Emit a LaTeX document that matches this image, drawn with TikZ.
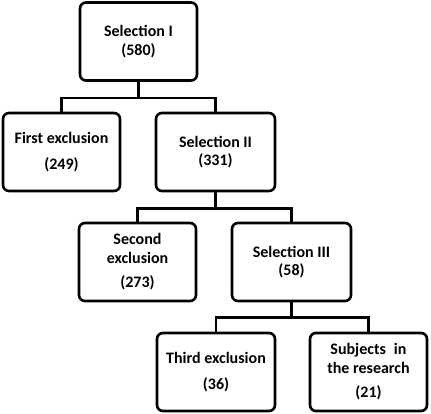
\documentclass[tikz,border=0pt]{standalone}
\usepackage{fontspec}
\setmainfont{Carlito}
\tikzset{
  stage/.style={draw, line width=2.6pt, rounded corners=6pt, align=center,
    minimum width=117pt, minimum height=78pt, inner sep=0pt,
    font=\bfseries\fontsize{16}{18.5}\selectfont},
  branch/.style={line width=2.6pt}
}
\begin{document}
\begin{tikzpicture}[x=1pt,y=1pt]
\useasboundingbox (0,0) rectangle (431,-413);
% first level
\node[stage] (selA) at (138.5,-41.5) {Selection I\\(580)};
\node[stage] (exclA) at (61.5,-152) {First exclusion\\[7pt](249)};
\node[stage, minimum width=119pt] (selB) at (215.5,-152) {Selection II\\(331)};
% second level
\node[stage] (exclB) at (137.5,-262) {Second\\exclusion\\[6pt](273)};
\node[stage, minimum width=119pt] (selC) at (291.5,-262) {Selection III\\(58)};
% third level
\node[stage, minimum width=118pt] (exclC) at (216,-372) {Third exclusion\\[7pt](36)};
\node[stage] (subj) at (368.5,-372) {Subjects\enspace in\\the research\\[6pt](21)};
% branches
\draw[branch] (selA.south) -- ++(0,-16) coordinate (forkA) -| (exclA.north);
\draw[branch] (forkA) -| (selB.north);
\draw[branch] (selB.south) -- ++(0,-16) coordinate (forkB) -| (exclB.north);
\draw[branch] (forkB) -| (selC.north);
\draw[branch] (selC.south) -- ++(0,-15) coordinate (forkC) -| (exclC.north);
\draw[branch] (forkC) -| (subj.north);
\end{tikzpicture}
\end{document}
